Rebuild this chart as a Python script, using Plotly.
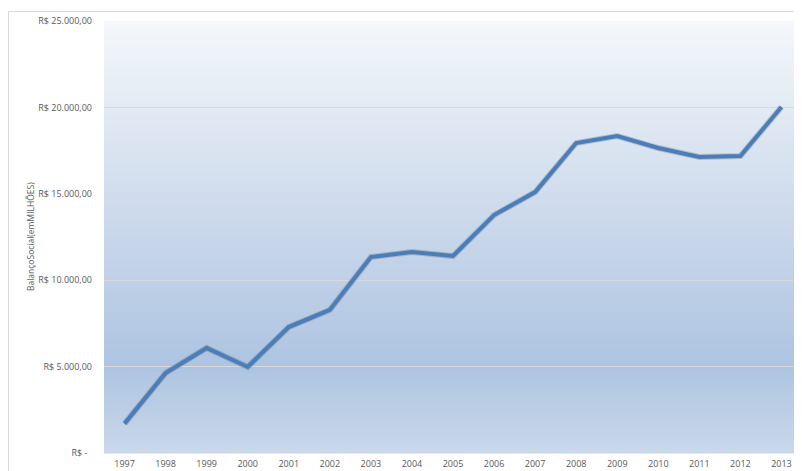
import plotly.graph_objects as go

years = ["1997", "1998", "1999", "2000", "2001", "2002", "2003", "2004", "2005",
         "2006", "2007", "2008", "2009", "2010", "2011", "2012", "2013"]
values = [1700, 4630, 6080, 4980, 7290, 8280, 11340, 11630, 11400,
          13770, 15100, 17940, 18340, 17650, 17130, 17190, 20020]
y_tickvals = [0, 5000, 10000, 15000, 20000, 25000]
y_ticktext = ["R$ -\u00a0\u00a0", "R$ 5.000,00", "R$ 10.000,00", "R$ 15.000,00",
              "R$ 20.000,00", "R$ 25.000,00"]
y_title = "BalançoSocial(emMILHÕES)"

# page body has an 8px margin, so the figure is sized to fit the window
W, H = 794, 463
L, R, T, B = 96, 0, 13, 18
pw, ph = W - L - R, H - T - B

def lerp(c1, c2, t):
    return tuple(c1[i] + (c2[i] - c1[i]) * t for i in range(3))

stops = [(0.0, (245, 248, 252)), (0.25, (222, 231, 242)), (0.55, (196, 211, 233)),
         (0.80, (173, 196, 225)), (1.0, (202, 216, 234))]

def color_at(t):
    for (a, ca), (b, cb) in zip(stops[:-1], stops[1:]):
        if a <= t <= b:
            c = lerp(ca, cb, (t - a) / (b - a))
            return "rgb(%d,%d,%d)" % tuple(round(v) for v in c)
    return "rgb(%d,%d,%d)" % stops[-1][1]

shapes = []
n = 108
for i in range(n):
    t = (i + 0.5) / n
    shapes.append(dict(type="rect", xref="x domain", yref="y domain",
                       x0=0, x1=1, y0=1 - (i + 1) / n - 0.001, y1=1 - i / n + 0.001,
                       fillcolor=color_at(t), line=dict(width=0), layer="below"))

# outer chart border
bx = (0.5 - L) / pw
by = 1 + (T - 3.5) / ph
shapes.append(dict(type="line", xref="paper", yref="paper", x0=bx, x1=bx, y0=-0.2, y1=by,
                   line=dict(color="#d9d9d9", width=1)))
shapes.append(dict(type="line", xref="paper", yref="paper", x0=bx, x1=1.05, y0=by, y1=by,
                   line=dict(color="#d9d9d9", width=1)))

fig = go.Figure()
fig.add_trace(go.Scatter(x=years, y=values, mode="lines",
                         line=dict(color="rgba(60,60,60,0.22)", width=6),
                         hoverinfo="skip", showlegend=False))
fig.add_trace(go.Scatter(x=years, y=values, mode="lines",
                         line=dict(color="#4a7ebb", width=4), showlegend=False))

font_family = "Open Sans, Noto Sans, sans-serif"
fig.update_layout(
    width=W, height=H,
    margin=dict(l=L, r=R, t=T, b=B, autoexpand=False),
    paper_bgcolor="white", plot_bgcolor="rgba(0,0,0,0)",
    shapes=shapes,
    font=dict(family=font_family, size=9, color="#595959"),
    xaxis=dict(type="category", range=[-0.5, 16.5], showgrid=False, zeroline=False,
               showline=False, ticks="", ticklabelstandoff=4,
               tickfont=dict(size=9, color="#595959"), fixedrange=True),
    yaxis=dict(range=[0, 25000], tickvals=y_tickvals, ticktext=y_ticktext,
               showgrid=True, gridcolor="#d9d9d9", gridwidth=1, zeroline=False,
               showline=False, ticks="", ticklabelstandoff=11,
               tickfont=dict(size=9, color="#595959"), fixedrange=True),
    annotations=[dict(text=y_title, xref="paper", yref="paper",
                      x=(22 - L) / pw, y=0.5, xanchor="center", yanchor="middle",
                      textangle=-90, showarrow=False,
                      font=dict(size=8.5, color="#595959", family=font_family))],
)

fig.write_html("out.html")
